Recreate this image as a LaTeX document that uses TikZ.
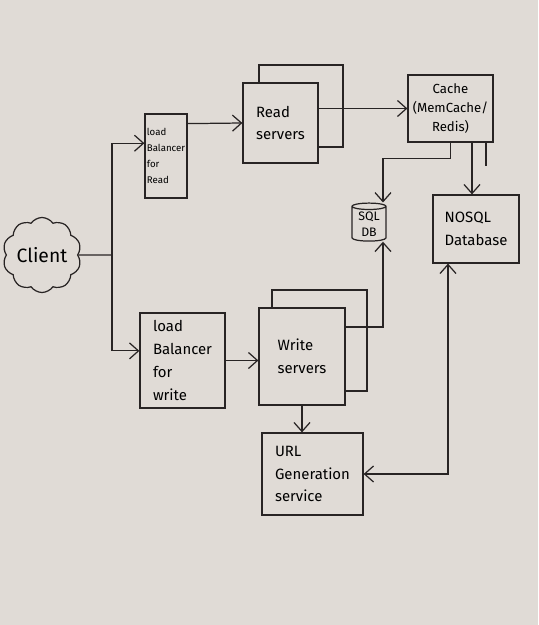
\documentclass[tikz,border=0pt]{standalone}
\usepackage{fontspec}
\setmainfont{Fira Sans}
\usetikzlibrary{arrows.meta,positioning,shapes.geometric,shapes.symbols,calc}
\definecolor{paper}{RGB}{224,219,214}
\definecolor{ink}{RGB}{40,36,36}
\tikzset{
  box/.style={draw=ink, rectangle, fill=paper, line width=0.7pt, align=left, inner sep=1pt, font=\fontsize{8.5}{13}\selectfont},
  cloudnode/.style={draw=ink, cloud, cloud puffs=10, cloud puff arc=110, aspect=1.1, line width=0.7pt, inner sep=0pt, font=\fontsize{11}{13}\selectfont},
  dbstore/.style={draw=ink, cylinder, shape border rotate=90, aspect=0.3, fill=paper, line width=0.7pt, align=center, inner sep=0pt, font=\fontsize{7}{9}\selectfont},
  arrow/.style={-{Straight Barb[length=1.8mm,width=3.2mm]}, draw=ink, line width=0.7pt},
  biarrow/.style={{Straight Barb[length=1.8mm,width=3.2mm]}-{Straight Barb[length=1.8mm,width=3.2mm]}, draw=ink, line width=0.7pt},
  link/.style={draw=ink, line width=0.7pt}
}
\begin{document}
\begin{tikzpicture}[x=0.02cm,y=-0.02cm]
  \fill[paper] (0,0) rectangle (538,625);
  \useasboundingbox (0,0) rectangle (538,625);
  % read side
  \node[cloudnode, minimum width=1.55cm, minimum height=1.5cm] (client) at (42,255) {Client};
  \node[box, minimum width=0.84cm, minimum height=1.68cm, font=\fontsize{5.5}{9}\selectfont] (lbread) at (166,156) {load\\Balancer\\for\\Read};
  \node[box, minimum width=1.68cm, minimum height=1.64cm] (readsrvback) at (301,106) {};
  \node[box, minimum width=1.5cm, minimum height=1.6cm] (readsrv) at (280.5,123) {Read\\servers};
  \node[box, minimum width=1.7cm, minimum height=1.34cm, align=center, font=\fontsize{7.5}{11}\selectfont] (cache) at (450.5,108.5) {Cache\\(MemCache/\\Redis)};
  \node[dbstore, minimum width=0.68cm, minimum height=0.76cm] (sqldb) at (369,224) {SQL\\DB};
  \node[box, minimum width=1.72cm, minimum height=1.36cm] (nosql) at (476,229) {NOSQL\\Database};
  % write side
  \node[box, minimum width=1.7cm, minimum height=1.9cm] (lbwrite) at (182.5,360.5) {load\\Balancer\\for\\write};
  \node[box, minimum width=1.9cm, minimum height=2.02cm] (writesrvback) at (319.5,340.5) {};
  \node[box, minimum width=1.72cm, minimum height=1.94cm] (writesrv) at (302,356.5) {Write\\servers};
  \node[box, minimum width=2.02cm, minimum height=1.64cm] (urlgen) at (312.5,474) {URL\\Generation\\service};
  \coordinate (split) at (112,255);
  \coordinate (cachedown) at ($(cache.south)+(21.5,0)$);
  \coordinate (cachestub) at ($(cache.south)+(35.5,0)$);
  % connectors
  \draw[link] (client.east) -- (split);
  \draw[arrow] (split) |- ($(lbread.north west)!0.35!(lbread.south west)$);
  \draw[arrow] (split) |- ($(lbwrite.north west)!0.4!(lbwrite.south west)$);
  \draw[arrow] ($(lbread.north east)!0.12!(lbread.south east)$) -- (readsrv.west);
  \draw[arrow] (readsrv.east |- cache.west) -- (cache.west);
  \draw[arrow] (cache.south) -- ++(0,16) -| ($(sqldb.north)+(14,0)$);
  \draw[arrow] (cachedown) -- (cachedown |- nosql.north);
  \draw[link] (cachestub) -- ++(0,23);
  \draw[arrow] ($(writesrv.north east)!0.2!(writesrv.south east)$) -| ($(sqldb.south)+(14,0)$);
  \draw[arrow] (lbwrite.east) -- (lbwrite.east -| writesrv.west);
  \draw[arrow] (writesrv.south) -- (writesrv.south |- urlgen.north);
  \draw[biarrow] (urlgen.east) -| ($(nosql.south)+(-28,0)$);
\end{tikzpicture}
\end{document}
